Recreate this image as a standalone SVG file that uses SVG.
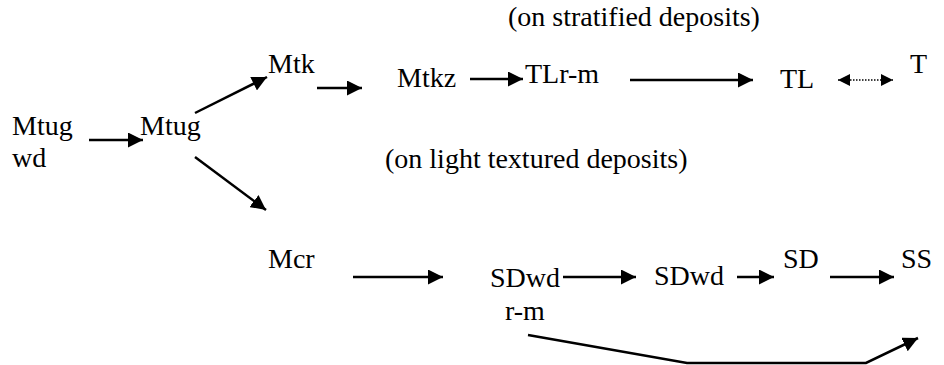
<svg xmlns="http://www.w3.org/2000/svg" width="944" height="365" viewBox="0 0 944 365" font-family="Liberation Serif" font-size="28">
<style>
.c { stroke: #000; stroke-width: 2.5; fill: none; }
.d { stroke: #000; stroke-width: 1.5; stroke-dasharray: 1.5 1.5; fill: none; }
</style>
<defs>
<marker id="ah" markerUnits="userSpaceOnUse" viewBox="0 0 15 15" refX="15" refY="7.5" markerWidth="15" markerHeight="15" orient="auto">
<path d="M0,0 L15,7.5 L0,15 z" fill="#000"/>
</marker>
<marker id="ahs" markerUnits="userSpaceOnUse" viewBox="0 0 12 12" refX="12" refY="6" markerWidth="12" markerHeight="12" orient="auto-start-reverse">
<path d="M0,0 L12,6 L0,12 z" fill="#000"/>
</marker>
</defs>
<rect width="944" height="365" fill="#fff"/>
<g id="labels">
<text x="508" y="26">(on stratified deposits)</text>
<text x="385" y="168">(on light textured deposits)</text>
</g>
<g id="n-mtugwd"><text x="12" y="135">Mtug</text><text x="12" y="167">wd</text></g>
<g id="n-mtug"><text x="140" y="135">Mtug</text></g>
<g id="n-mtk"><text x="268" y="73">Mtk</text></g>
<g id="n-mtkz"><text x="397" y="87">Mtkz</text></g>
<g id="n-tlrm"><text x="525" y="83">TLr-m</text></g>
<g id="n-tl"><text x="780" y="88">TL</text></g>
<g id="n-t"><text x="910" y="73">T</text></g>
<g id="n-mcr"><text x="268" y="268">Mcr</text></g>
<g id="n-sdwdrm"><text x="490" y="287">SDwd</text><text x="505" y="320">r-m</text></g>
<g id="n-sdwd"><text x="654" y="285">SDwd</text></g>
<g id="n-sd"><text x="783" y="268">SD</text></g>
<g id="n-ss"><text x="901" y="268">SS</text></g>
<g id="connectors">
<line class="c" x1="89" y1="140" x2="143" y2="140" marker-end="url(#ah)"/>
<line class="c" x1="195" y1="113" x2="267" y2="77" marker-end="url(#ah)"/>
<line class="c" x1="195" y1="157" x2="266" y2="210" marker-end="url(#ah)"/>
<line class="c" x1="317" y1="88" x2="362" y2="88" marker-end="url(#ah)"/>
<line class="c" x1="470" y1="79" x2="523" y2="79" marker-end="url(#ah)"/>
<line class="c" x1="630" y1="80" x2="753" y2="80" marker-end="url(#ah)"/>
<line class="d" x1="838" y1="80" x2="893" y2="80" marker-start="url(#ahs)" marker-end="url(#ahs)"/>
<line class="c" x1="353" y1="277" x2="443" y2="277" marker-end="url(#ah)"/>
<line class="c" x1="563" y1="277" x2="636" y2="277" marker-end="url(#ah)"/>
<line class="c" x1="737" y1="277" x2="774" y2="277" marker-end="url(#ah)"/>
<line class="c" x1="830" y1="277" x2="894" y2="277" marker-end="url(#ah)"/>
<polyline class="c" points="528,335 687,363 866,363 918,338" marker-end="url(#ah)"/>
</g>
</svg>
